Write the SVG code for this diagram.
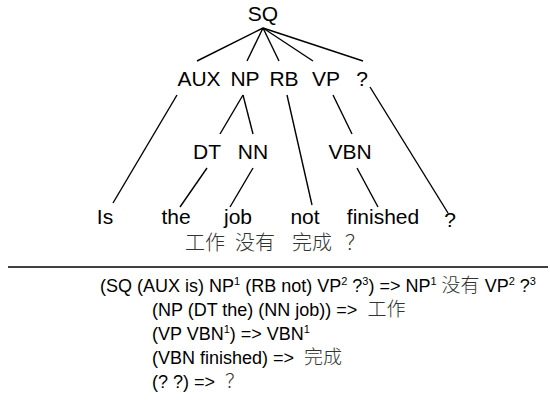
<svg xmlns="http://www.w3.org/2000/svg" width="550" height="420" viewBox="0 0 550 420">
<style>
.t{font-family:"Liberation Sans",Arial,sans-serif;font-size:21px;fill:#000;text-anchor:middle}
.zh{font-family:"Noto Sans CJK SC",sans-serif;font-size:19px;fill:#333;font-weight:300}
.zt{font-size:20px}
.r{font-family:"Liberation Sans",Arial,sans-serif;font-size:18px;fill:#000}
.s{font-size:11px}
.e line{stroke:#000;stroke-width:1.4}
</style>
<rect width="550" height="420" fill="#fff"/>
<g class="e" id="connectors">
<line x1="263" y1="28" x2="197" y2="61"/>
<line x1="263" y1="28" x2="247" y2="61"/>
<line x1="263" y1="28" x2="279" y2="61"/>
<line x1="263" y1="28" x2="313" y2="61"/>
<line x1="263" y1="28" x2="363" y2="61"/>
<line x1="177" y1="95" x2="113" y2="203"/>
<line x1="243" y1="95" x2="220" y2="134"/>
<line x1="243" y1="95" x2="253" y2="134"/>
<line x1="287" y1="95" x2="312" y2="205"/>
<line x1="333" y1="95" x2="352" y2="134"/>
<line x1="370" y1="87" x2="448" y2="213"/>
<line x1="207" y1="168" x2="180" y2="207"/>
<line x1="253" y1="168" x2="230" y2="207"/>
<line x1="357" y1="168" x2="378" y2="207"/>
</g>
<g id="n-SQ"><text class="t" x="263" y="21">SQ</text></g>
<g id="n-AUX"><text class="t" x="199" y="86">AUX</text></g>
<g id="n-NP"><text class="t" x="245" y="86">NP</text></g>
<g id="n-RB"><text class="t" x="284" y="86">RB</text></g>
<g id="n-VP"><text class="t" x="326" y="86">VP</text></g>
<g id="n-Q"><text class="t" x="362" y="86">?</text></g>
<g id="n-DT"><text class="t" x="207" y="159">DT</text></g>
<g id="n-NN"><text class="t" x="253" y="159">NN</text></g>
<g id="n-VBN"><text class="t" x="350" y="159">VBN</text></g>
<g id="n-Is"><text class="t" x="105" y="224">Is</text></g>
<g id="n-the"><text class="t" x="176" y="224">the</text></g>
<g id="n-job"><text class="t" x="238" y="224">job</text></g>
<g id="n-not"><text class="t" x="305" y="224">not</text></g>
<g id="n-finished"><text class="t" x="383" y="224">finished</text></g>
<g id="n-q2"><text class="t" x="450" y="227">?</text></g>
<g id="translation"><text class="zh zt" y="250"><tspan x="185">工作</tspan><tspan x="235">没有</tspan><tspan x="292">完成</tspan><tspan x="345">？</tspan></text></g>
<line x1="8" y1="267" x2="548" y2="267" stroke="#000" stroke-width="1.4"/>
<g id="rules">
<text class="r" x="100" y="292">(SQ (AUX is) NP<tspan class="s" dy="-7">1</tspan><tspan dy="7"> (RB not) VP</tspan><tspan class="s" dy="-7">2</tspan><tspan dy="7"> ?</tspan><tspan class="s" dy="-7">3</tspan><tspan dy="7">) =&gt; NP</tspan><tspan class="s" dy="-7">1</tspan><tspan dy="7"> </tspan><tspan class="zh">没有</tspan><tspan> VP</tspan><tspan class="s" dy="-7">2</tspan><tspan dy="7"> ?</tspan><tspan class="s" dy="-7">3</tspan></text>
<text class="r" x="152" y="316" xml:space="preserve">(NP (DT the) (NN job)) =&gt;  <tspan class="zh">工作</tspan></text>
<text class="r" x="152" y="340">(VP VBN<tspan class="s" dy="-7">1</tspan><tspan dy="7">) =&gt; VBN</tspan><tspan class="s" dy="-7">1</tspan></text>
<text class="r" x="152" y="364" xml:space="preserve">(VBN finished) =&gt;  <tspan class="zh">完成</tspan></text>
<text class="r" x="152" y="388" xml:space="preserve">(? ?) =&gt;  <tspan class="zh">？</tspan></text>
</g>
</svg>
